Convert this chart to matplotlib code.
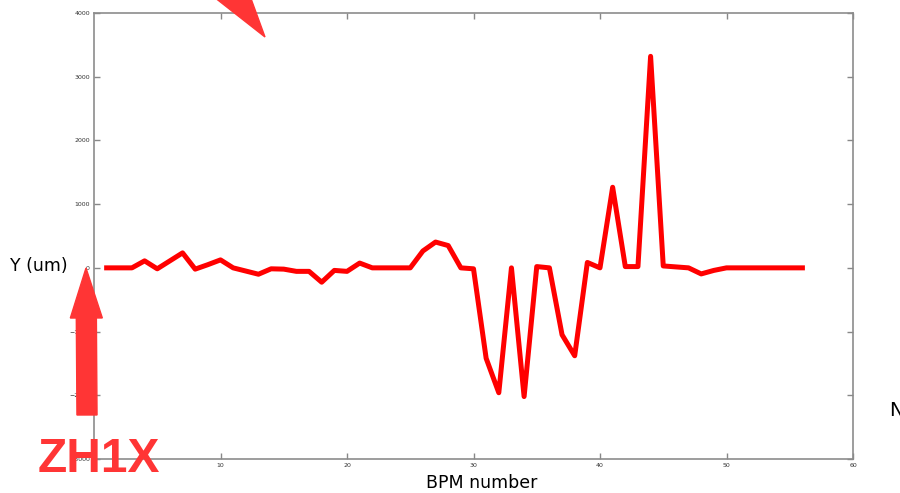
import matplotlib.pyplot as plt
from matplotlib.patches import FancyArrow

# BPM vertical orbit response, one reading per BPM
bpm = list(range(1, 57))
y_um = [0, 0, 0, 110, -15, 110, 235, -20, 50, 125,
        0, -50, -100, -15, -20, -55, -55, -225, -40, -55,
        75, 0, 0, 0, 0, 265, 405, 350, 0, -15,
        -1420, -1960, 0, -2020, 20, 0, -1050, -1380, 85, 0,
        1265, 20, 20, 3320, 30, 15, 0, -95, -40, 0,
        0, 0, 0, 0, 0, 0]

xticks = [10, 20, 30, 40, 50, 60]
yticks = [-3000, -2000, -1000, 0, 1000, 2000, 3000, 4000]

fig = plt.figure(figsize=(9, 4.93), dpi=100)
ax = fig.add_axes([94 / 900, 1 - 459 / 493, (853 - 94) / 900, (459 - 13) / 493])

ax.plot(bpm, y_um, color="#ff0000", lw=3.6, solid_joinstyle="round")

ax.set_xlim(0, 60)
ax.set_ylim(-3000, 4000)
ax.set_xticks(xticks)
ax.set_yticks(yticks)
ax.tick_params(direction="in", length=4.5, width=1, color="#888888",
               labelsize=4.5, labelcolor="#333333", pad=3,
               top=True, right=True)
for s in ax.spines.values():
    s.set_color("#8c8c8c")
    s.set_linewidth(1.2)

# axis labels placed by hand
fig.text(10 / 900, 1 - 266 / 493, "Y (um)", fontsize=12.5, va="center", ha="left")
fig.text(482 / 900, 1 - 483 / 493, "BPM number", fontsize=12.5, va="center", ha="center")
fig.text(889 / 900, 1 - 411 / 493, "N", fontsize=14, va="center", ha="left")

# annotation arrows and corrector name
red = "#ff3535"
fig.patches.append(FancyArrow(87 / 900, 1 - 415 / 493, -1 / 900, (415 - 268) / 493,
                              width=11 / 493, head_width=32 / 900, head_length=50 / 493,
                              length_includes_head=True, color=red,
                              transform=fig.transFigure, figure=fig))
fig.patches.append(FancyArrow(205 / 900, 1 + 40 / 493, 60 / 900, -77 / 493,
                              width=11 / 493, head_width=42 / 900, head_length=55 / 493,
                              length_includes_head=True, color=red,
                              transform=fig.transFigure, figure=fig))
fig.text(38 / 900, 1 - 459 / 493, "ZH1X", fontsize=34.5, fontweight="bold",
         family="Liberation Sans", color=red, va="center", ha="left")

fig.savefig("out.png", dpi=100)
